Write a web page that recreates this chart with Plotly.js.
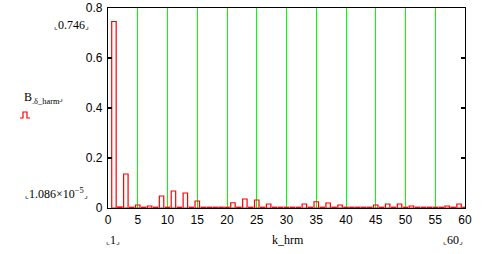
<!DOCTYPE html>
<html><head><meta charset="utf-8">
<script src="https://cdn.plot.ly/plotly-3.0.1.min.js"></script>
<style>html,body{margin:0;padding:0;background:#fff;}#chart{width:497px;height:254px;}</style>
</head><body><div id="chart"></div>
<script>
// Harmonic order
const harmonics = Array.from({length: 60}, (_, i) => i + 1);
// Relative amplitude B.δ_harm
const amplitudes = [
  0.746, 0.004, 0.136, 0.003, 0.012, 0.003, 0.008, 0.003, 0.048, 0.003,
  0.068, 0.003, 0.060, 0.003, 0.028, 0.003, 0.003, 0.003, 0.003, 0.003,
  0.021, 0.003, 0.036, 0.003, 0.032, 0.003, 0.016, 0.003, 0.003, 0.003,
  0.003, 0.003, 0.016, 0.003, 0.025, 0.003, 0.020, 0.003, 0.012, 0.003,
  0.003, 0.003, 0.003, 0.003, 0.012, 0.003, 0.016, 0.003, 0.016, 0.003,
  0.008, 0.003, 0.003, 0.003, 0.003, 0.003, 0.008, 0.003, 0.016, 0.003
];
const yTicks = [0, 0.2, 0.4, 0.6, 0.8];
const yTickLabels = ['0', '0.2', '0.4', '0.6', '0.8'];
const xTicks = [0, 5, 10, 15, 20, 25, 30, 35, 40, 45, 50, 55, 60];
const yMaxLabel = '0.746';
const yMinLabel = '1.086×10<sup>−5</sup>';
const xMinLabel = '1';
const xMaxLabel = '60';
const seriesName = 'B<sub>.δ_harm</sub>';
const xName = 'k_hrm';

const L = 108, R = 465, T = 8, B = 208;
const px = p => (p - L) / (R - L);
const py = q => (B - q) / (B - T);
const serif = {family: 'Liberation Serif, Times New Roman, serif', size: 12, color: '#000'};

const trace = {
  type: 'bar', x: harmonics, y: amplitudes, width: 0.75,
  marker: {color: 'rgba(255,255,255,0)', line: {color: '#ff0000', width: 1.2}},
  hoverinfo: 'skip'
};
const br = t => '<span style="font-size:8px">⌞</span>' + t + '<span style="font-size:8px">⌟</span>';
const layout = {
  width: 497, height: 254,
  margin: {l: L, r: 497 - R, t: T, b: 254 - B, pad: 0},
  paper_bgcolor: '#fff', plot_bgcolor: '#fff',
  showlegend: false, bargap: 0,
  font: {family: 'Liberation Sans, Arial, sans-serif', size: 12, color: '#000'},
  xaxis: {
    range: [0, 60], tickvals: xTicks, ticktext: xTicks.map(String),
    showgrid: true, gridcolor: '#00ff00', gridwidth: 1,
    showline: true, linecolor: '#000', linewidth: 1.2, mirror: true,
    ticks: '', zeroline: false, fixedrange: true
  },
  yaxis: {
    range: [0, 0.8], tickvals: yTicks, ticktext: yTickLabels,
    showgrid: false, showline: true, linecolor: '#000', linewidth: 1.2, mirror: 'ticks',
    ticks: 'inside', ticklen: 4, tickcolor: '#000', tickwidth: 1.2,
    zeroline: false, fixedrange: true, ticklabelstandoff: 2
  },
  annotations: [
    {text: br(yMaxLabel), x: px(71), y: py(25)},
    {text: seriesName + '<span style="font-size:8px">⌟</span>', x: px(43), y: py(98)},
    {text: br(yMinLabel), x: px(56), y: py(193)},
    {text: br(xMinLabel), x: px(113), y: py(240)},
    {text: xName, x: px(288), y: py(240)},
    {text: br(xMaxLabel), x: px(453), y: py(240)}
  ].map(a => Object.assign({xref: 'paper', yref: 'paper', showarrow: false, xanchor: 'center', yanchor: 'middle', font: serif}, a)),
  shapes: [{
    type: 'path', xref: 'paper', yref: 'paper',
    path: `M ${px(20)} ${py(118)} L ${px(23)} ${py(118)} L ${px(23)} ${py(112)} L ${px(27)} ${py(112)} L ${px(27)} ${py(118)} L ${px(30)} ${py(118)}`,
    line: {color: '#ff0000', width: 1.2}
  }]
};
Plotly.newPlot('chart', [trace], layout, {staticPlot: true, displayModeBar: false});
</script></body></html>
